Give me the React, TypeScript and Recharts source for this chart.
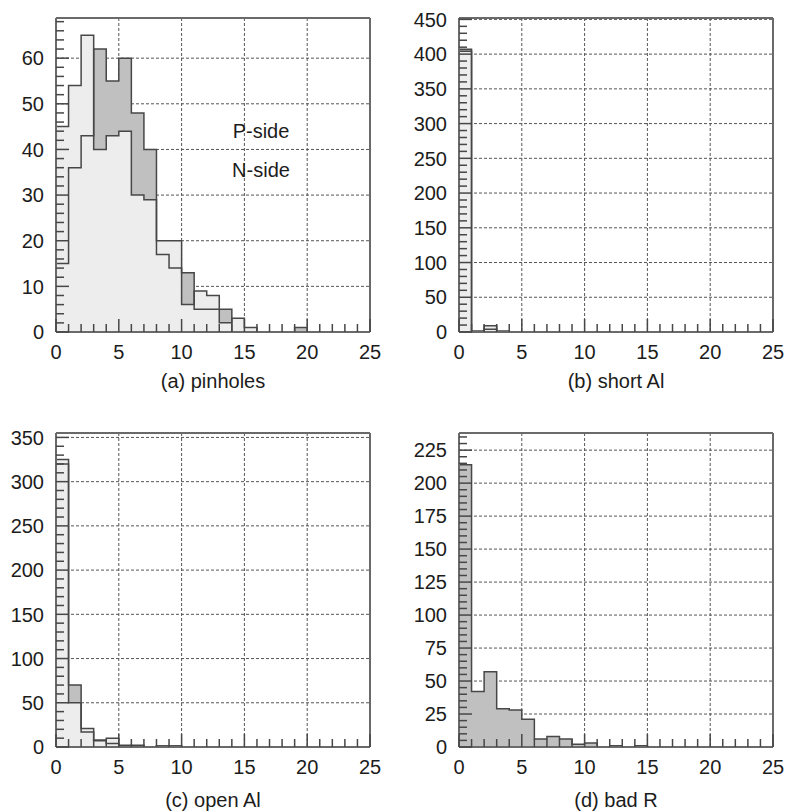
import React from 'react';
import { ComposedChart, Area, Line, XAxis, YAxis, CartesianGrid, Legend, Label } from 'recharts';

// ---------- data ----------
const bins = [0, 1, 2, 3, 4, 5, 6, 7, 8, 9, 10, 11, 12, 13, 14, 15, 16, 17, 18, 19, 20, 21, 22, 23, 24, 25];
const xMajorTicks = [0, 5, 10, 15, 20, 25];

// (a) pinholes
const pinholesP = [15, 36, 43, 62, 55, 60, 48, 40, 17, 14, 13, 5, 5, 5, 0, 0, 0, 0, 0, 1, 0, 0, 0, 0, 0];
const pinholesN = [45, 54, 65, 40, 43, 44, 30, 29, 20, 20, 6, 9, 8, 2, 3, 1, 0, 0, 0, 0, 0, 0, 0, 0, 0];
const pinholesYTicks = [0, 10, 20, 30, 40, 50, 60];

// (b) short Al
const shortAlP = [407, 1, 4, 1, 0, 0, 0, 0, 0, 0, 0, 0, 0, 0, 0, 0, 0, 0, 0, 0, 0, 0, 0, 0, 0];
const shortAlN = [404, 1, 9, 1, 0, 0, 0, 0, 0, 0, 0, 0, 0, 0, 0, 0, 0, 0, 0, 0, 0, 0, 0, 0, 0];
const shortAlYTicks = [0, 50, 100, 150, 200, 250, 300, 350, 400, 450];

// (c) open Al
const openAlP = [320, 70, 17, 7, 4, 1, 2, 0, 1, 1, 0, 0, 0, 0, 0, 0, 0, 0, 0, 0, 0, 0, 0, 0, 0];
const openAlN = [325, 50, 21, 8, 10, 2, 1, 0, 1, 1, 0, 0, 0, 0, 0, 0, 0, 0, 0, 0, 0, 0, 0, 0, 0];
const openAlYTicks = [0, 50, 100, 150, 200, 250, 300, 350];

// (d) bad R
const badRP = [214, 42, 57, 29, 28, 21, 6, 8, 6, 2, 3, 0, 1, 0, 1, 0, 0, 0, 0, 0, 0, 0, 0, 0, 0];
const badRN = [0, 0, 0, 0, 0, 0, 0, 0, 0, 0, 0, 0, 0, 0, 0, 0, 0, 0, 0, 0, 0, 0, 0, 0, 0];
const badRYTicks = [0, 25, 50, 75, 100, 125, 150, 175, 200, 225];

const seriesNames = ['P-side', 'N-side'];

// ---------- style ----------
const FONT = '"Liberation Sans", Arial, Helvetica, sans-serif';
const DARK_FILL = '#c0c0c0';
const LIGHT_FILL = '#ededed';
const EDGE = '#474747';
const GRID = '#555555';
const FRAME = '#6a6a6a';
const TEXT = '#1c1c1c';
const FS = 20;

const CHART_W = 384;
const CHART_H = 400;

function minorTicks(max: number, step: number) {
  const out: number[] = [];
  for (let v = 0; v <= max + 1e-9; v += step) out.push(Math.round(v * 1000) / 1000);
  return out;
}

function buildData(p: number[], n: number[]) {
  return bins.map((x, i) => ({
    x,
    p: p[Math.min(i, p.length - 1)],
    n: n[Math.min(i, n.length - 1)],
  }));
}

// y tick: inward tick line (long for labelled ticks), label outside
function makeYTick(major: number[]) {
  return (props: any) => {
    const { x, y, payload } = props;
    const isMajor = major.includes(payload.value);
    return (
      <g>
        <line x1={x} x2={x + (isMajor ? 13 : 8)} y1={y} y2={y} stroke={EDGE} strokeWidth={1.5} />
        {isMajor && (
          <text x={x - 12} y={y} dy="0.36em" textAnchor="end" fill={TEXT} fontSize={FS} fontFamily={FONT}>
            {payload.value}
          </text>
        )}
      </g>
    );
  };
}

function makeXTick(major: number[]) {
  return (props: any) => {
    const { x, y, payload } = props;
    const isMajor = major.includes(payload.value);
    return (
      <g>
        <line x1={x} x2={x} y1={y} y2={y - (isMajor ? 13 : 8)} stroke={EDGE} strokeWidth={1.5} />
        {isMajor && (
          <text x={x} y={y + 27} textAnchor="middle" fill={TEXT} fontSize={FS} fontFamily={FONT}>
            {payload.value}
          </text>
        )}
      </g>
    );
  };
}

const renderLegend = (props: any) => {
  const payload = (props.payload || []).filter((e: any) => seriesNames.includes(e.value));
  payload.sort((a: any, b: any) => seriesNames.indexOf(a.value) - seriesNames.indexOf(b.value));
  return (
    <div style={{ fontFamily: FONT, fontSize: FS, color: TEXT, textAlign: 'center', lineHeight: '38.6px' }}>
      {payload.map((e: any) => (
        <div key={e.value}>{e.value}</div>
      ))}
    </div>
  );
};

type PanelProps = {
  p: number[];
  n: number[];
  yMax: number;
  yTicks: number[];
  yMinorStep: number;
  title: string;
  titleOffset: number;
  legend?: boolean;
};

function Panel({ p, n, yMax, yTicks, yMinorStep, title, titleOffset, legend }: PanelProps) {
  const data = buildData(p, n);
  const yAll = minorTicks(yMax, yMinorStep);
  return (
    <ComposedChart width={CHART_W} height={CHART_H} data={data} margin={{ top: 17, right: 13, bottom: 0, left: 0 }}>
      <Area
        type="stepAfter"
        dataKey="p"
        name="P-side"
        fill={DARK_FILL}
        fillOpacity={1}
        stroke="none"
        isAnimationActive={false}
        activeDot={false}
        dot={false}
      />
      <Area
        type="stepAfter"
        dataKey="n"
        name="N-side"
        fill={LIGHT_FILL}
        fillOpacity={1}
        stroke="none"
        isAnimationActive={false}
        activeDot={false}
        dot={false}
      />
      <CartesianGrid
        stroke={GRID}
        strokeDasharray="3 2"
        strokeWidth={1}
        horizontalValues={yTicks}
        verticalValues={xMajorTicks}
      />
      <Line
        type="stepAfter"
        dataKey="p"
        stroke={EDGE}
        strokeWidth={1.5}
        dot={false}
        activeDot={false}
        legendType="none"
        isAnimationActive={false}
      />
      <Line
        type="stepAfter"
        dataKey="n"
        stroke={EDGE}
        strokeWidth={1.5}
        dot={false}
        activeDot={false}
        legendType="none"
        isAnimationActive={false}
      />
      <XAxis
        type="number"
        dataKey="x"
        domain={[0, 25]}
        allowDataOverflow
        ticks={bins}
        interval={0}
        height={68}
        tickSize={0}
        tickMargin={0}
        tickLine={false}
        tick={makeXTick(xMajorTicks)}
        axisLine={{ stroke: FRAME, strokeWidth: 2 }}
      >
        <Label value={title} position="insideBottom" offset={titleOffset} style={{ fill: TEXT, fontSize: FS, fontFamily: FONT }} />
      </XAxis>
      <YAxis
        type="number"
        domain={[0, yMax]}
        allowDataOverflow
        ticks={yAll}
        interval={0}
        width={56}
        tickSize={0}
        tickMargin={0}
        tickLine={false}
        tick={makeYTick(yTicks)}
        axisLine={{ stroke: FRAME, strokeWidth: 2 }}
      />
      <XAxis
        xAxisId="topX"
        orientation="top"
        type="number"
        dataKey="x"
        domain={[0, 25]}
        allowDataOverflow
        height={1}
        tick={false}
        tickLine={false}
        axisLine={{ stroke: FRAME, strokeWidth: 2 }}
      />
      <YAxis
        yAxisId="rightY"
        orientation="right"
        type="number"
        domain={[0, yMax]}
        allowDataOverflow
        width={1}
        tick={false}
        tickLine={false}
        axisLine={{ stroke: FRAME, strokeWidth: 2 }}
      />
      {legend && (
        <Legend
          layout="vertical"
          align="center"
          verticalAlign="middle"
          content={renderLegend}
          wrapperStyle={{ left: 211, top: 112, width: 100 }}
        />
      )}
    </ComposedChart>
  );
}

export default function App() {
  return (
    <div style={{ position: 'absolute', left: 0, top: 0, width: 787, height: 812, background: '#fff', overflow: 'hidden' }}>
      <div style={{ position: 'absolute', left: 0, top: 0 }}>
        <Panel p={pinholesP} n={pinholesN} yMax={68.8} yTicks={pinholesYTicks} yMinorStep={2} title="(a) pinholes" titleOffset={12} legend />
      </div>
      <div style={{ position: 'absolute', left: 403, top: 0 }}>
        <Panel p={shortAlP} n={shortAlN} yMax={452} yTicks={shortAlYTicks} yMinorStep={10} title="(b) short Al" titleOffset={12} />
      </div>
      <div style={{ position: 'absolute', left: 0, top: 415 }}>
        <Panel p={openAlP} n={openAlN} yMax={355} yTicks={openAlYTicks} yMinorStep={10} title="(c) open Al" titleOffset={8} />
      </div>
      <div style={{ position: 'absolute', left: 403, top: 415 }}>
        <Panel p={badRP} n={badRN} yMax={238} yTicks={badRYTicks} yMinorStep={5} title="(d) bad R" titleOffset={8} />
      </div>
    </div>
  );
}
